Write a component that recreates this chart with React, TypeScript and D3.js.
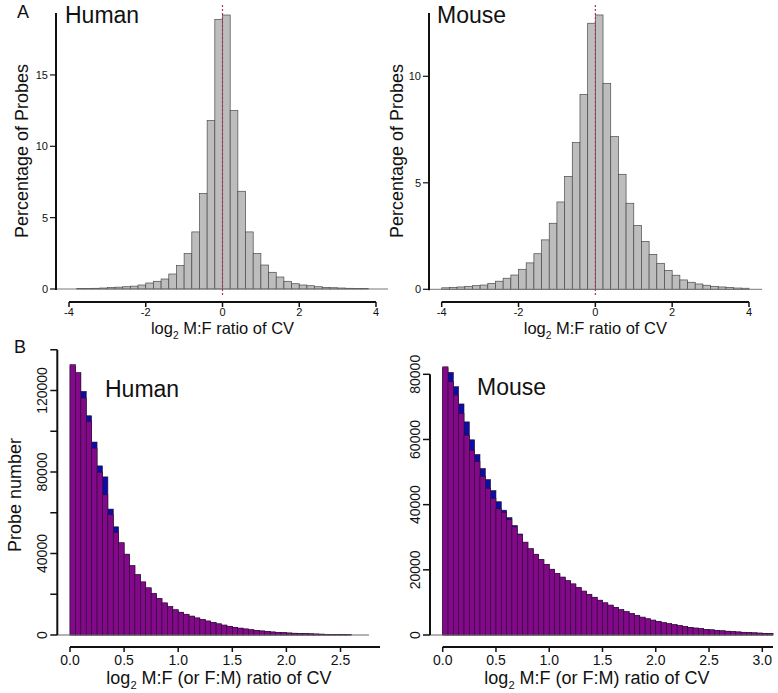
import React from "react";
import * as d3 from "d3";

// ---------- DATA ----------
// Panel A: percentage of probes, bins of width 0.2 (lower edges start)
const humanPctStart = -3.8;
const humanPct = [0.03, 0.04, 0.05, 0.07, 0.10, 0.13, 0.16, 0.20, 0.28, 0.42, 0.54, 0.70, 1.05, 1.64, 2.48, 4.0, 6.7, 11.8, 18.9,
  19.2, 12.5, 6.85, 4.0, 2.48, 1.68, 1.17, 0.84, 0.54, 0.37, 0.28, 0.23, 0.16, 0.11, 0.09, 0.07, 0.05, 0.04, 0.03];
const mousePctStart = -4.0;
const mousePct = [0.07, 0.09, 0.11, 0.14, 0.17, 0.20, 0.28, 0.38, 0.52, 0.67, 0.94, 1.24, 1.67, 2.32, 3.1, 4.1, 5.3, 6.89, 9.15, 12.49,
  12.88, 9.67, 7.17, 5.4, 4.04, 3.0, 2.25, 1.64, 1.22, 0.89, 0.66, 0.44, 0.33, 0.25, 0.19, 0.14, 0.11, 0.09, 0.06, 0.05];
const pctBinWidth = 0.2;
const humanPctTicksY = [0, 5, 10, 15];
const mousePctTicksY = [0, 5, 10];
const pctTicksX = [-4, -2, 0, 2, 4];

// Panel B: probe number (thousands), bins of width 0.05 from 0
const humanNumPurple = [132.7, 128.9, 116.3, 104.8, 91.7, 79.9, 68.8, 59.0, 50.4, 45.4,
  39.7, 34.1, 29.7, 26.1, 23.2, 20.4, 18.0, 15.8, 14.0, 12.4,
  11.2, 10.2, 9.3, 8.4, 7.6, 6.9, 6.2, 5.5, 4.9, 4.3,
  3.8, 3.4, 3.0, 2.6, 2.3, 2.0, 1.75, 1.5, 1.3, 1.15,
  1.0, 0.88, 0.77, 0.67, 0.58, 0.5, 0.42, 0.35, 0.29, 0.23, 0.18, 0.14];
const humanNumBlue = [132.0, 128.3, 119.6, 107.6, 94.7, 83.0, 77.6, 61.8, 53.1, 45.0,
  39.5, 33.9, 29.5, 25.9, 23.0, 20.2, 17.8, 15.6, 13.8, 12.3,
  11.1, 10.1, 9.2, 8.3, 7.5, 6.8, 6.1, 5.4, 4.8, 4.2,
  3.7, 3.3, 2.9, 2.5, 2.2, 1.95, 1.7, 1.45, 1.25, 1.1,
  0.95, 0.85, 0.74, 0.64, 0.55, 0.47, 0.40, 0.33, 0.27, 0.22, 0.17, 0.13];
const mouseNumPurple = [82.3, 77.7, 73.6, 68.0, 61.3, 56.7, 53.2, 48.6, 45.0, 41.9,
  38.7, 37.6, 35.4, 33.2, 30.8, 28.5, 26.5, 24.8, 23.2, 21.7,
  20.2, 18.9, 17.8, 16.7, 15.7, 14.6, 13.5, 12.5, 11.6, 10.7,
  9.9, 9.2, 8.5, 7.8, 7.2, 6.6, 6.0, 5.5, 5.0, 4.6,
  4.2, 3.8, 3.5, 3.2, 2.9, 2.6, 2.35, 2.15, 1.95, 1.75,
  1.6, 1.45, 1.3, 1.18, 1.05, 0.95, 0.85, 0.75, 0.67, 0.6, 0.53, 0.46];
const mouseNumBlue = [82.0, 80.6, 76.2, 70.9, 65.4, 59.9, 55.4, 51.1, 47.7, 44.3,
  40.9, 38.3, 36.0, 33.6, 31.0, 28.4, 26.4, 24.7, 23.1, 21.6,
  20.1, 18.8, 17.7, 16.6, 15.6, 14.5, 13.4, 12.4, 11.5, 10.6,
  9.8, 9.1, 8.4, 7.7, 7.1, 6.5, 5.9, 5.4, 4.9, 4.5,
  4.1, 3.7, 3.4, 3.1, 2.8, 2.55, 2.3, 2.1, 1.9, 1.7,
  1.55, 1.4, 1.25, 1.14, 1.0, 0.92, 0.82, 0.72, 0.64, 0.57, 0.5, 0.44];
const numBinWidth = 0.05;
const humanNumTicksY = [0, 20000, 40000, 60000, 80000, 100000, 120000, 140000];
const humanNumLabelsY = [0, 40000, 80000, 120000];
const mouseNumTicksY = [0, 20000, 40000, 60000, 80000];
const humanNumTicksX = [0, 0.5, 1.0, 1.5, 2.0, 2.5];
const mouseNumTicksX = [0, 0.5, 1.0, 1.5, 2.0, 2.5, 3.0];

// ---------- STYLE ----------
const FONT = "'Liberation Sans', Arial, Helvetica, sans-serif";
const GRAY = "#bdbdbd";
const PURPLE = "#84098a";
const BLUE = "#0c0ca6";

function Log2Label({ x, y, size, rest }) {
  return (
    <text x={x} y={y} fontSize={size} textAnchor="middle" fontFamily={FONT} fill="#111">
      log<tspan fontSize={size * 0.62} dy={size * 0.28}>2</tspan>
      <tspan dy={-size * 0.28}>{" " + rest}</tspan>
    </text>
  );
}

function PanelA({ values, start, xRange, y0, yUnit, axisX, baselineEnd, yTicks, title, titleX, ylabX }) {
  const x = d3.scaleLinear().domain([-4, 4]).range(xRange);
  const y = d3.scaleLinear().domain([0, 1]).range([y0, y0 - yUnit]);
  const edges = values.map((_, i) => start + i * pctBinWidth);
  const yTop = 13;
  return (
    <g>
      {values.map((v, i) => (
        <rect key={i} x={x(edges[i])} y={y(v)} width={x(edges[i] + pctBinWidth) - x(edges[i])}
          height={y0 - y(v)} fill={GRAY} stroke="#4a4a4a" strokeWidth={0.7} />
      ))}
      <line x1={axisX} x2={baselineEnd} y1={y0} y2={y0} stroke="#777" strokeWidth={1} />
      <line x1={x(0)} x2={x(0)} y1={5} y2={297} stroke="#b3305c" strokeWidth={1.2} strokeDasharray="2 2" />
      {/* y axis */}
      <line x1={axisX} x2={axisX} y1={y0 + 1} y2={yTop} stroke="#111" strokeWidth={2} />
      {yTicks.map((t) => (
        <g key={t}>
          <line x1={axisX - 6} x2={axisX} y1={y(t)} y2={y(t)} stroke="#111" strokeWidth={1.2} />
          <text x={axisX - 8} y={y(t) + 4} fontSize={11} textAnchor="end" fontFamily={FONT} fill="#111">{t}</text>
        </g>
      ))}
      {/* x axis */}
      <line x1={x(-4)} x2={x(4)} y1={302} y2={302} stroke="#111" strokeWidth={2} />
      {pctTicksX.map((t) => (
        <g key={t}>
          <line x1={x(t)} x2={x(t)} y1={302} y2={307} stroke="#111" strokeWidth={1.5} />
          <text x={x(t)} y={316} fontSize={11} textAnchor="middle" fontFamily={FONT} fill="#111">{t}</text>
        </g>
      ))}
      <Log2Label x={(x(-4) + x(4)) / 2} y={334} size={16.5} rest="M:F ratio of CV" />
      <text transform={`translate(${ylabX},151) rotate(-90)`} fontSize={18} textAnchor="middle" fontFamily={FONT} fill="#111">Percentage of Probes</text>
      <text x={titleX} y={23} fontSize={23} fontFamily={FONT} fill="#111">{title}</text>
    </g>
  );
}

function PanelB({ purple, blue, xDomain, xRange, yDomain, yRange, axisX, axisEndX, baselineEnd, yTicks, yLabels, xTicks, title, titleX, titleY, labelX }) {
  const x = d3.scaleLinear().domain(xDomain).range(xRange);
  const y = d3.scaleLinear().domain(yDomain).range(yRange);
  const y0 = y(0);
  const bars = (vals, fill) =>
    vals.map((v, i) => {
      const x0 = x(i * numBinWidth);
      const x1 = x((i + 1) * numBinWidth);
      return (
        <rect key={fill + i} x={x0} y={y(v * 1000)} width={x1 - x0} height={y0 - y(v * 1000)}
          fill={fill} stroke="#2a1030" strokeWidth={0.6} />
      );
    });
  const topTick = yTicks[yTicks.length - 1];
  return (
    <g>
      {bars(blue, BLUE)}
      {bars(purple, PURPLE)}
      <line x1={axisX} x2={baselineEnd} y1={y0} y2={y0} stroke="#666" strokeWidth={1} />
      <line x1={axisX} x2={axisX} y1={y0} y2={y(topTick)} stroke="#111" strokeWidth={2} />
      {yTicks.map((t) => (
        <line key={t} x1={axisX - 7} x2={axisX} y1={y(t)} y2={y(t)} stroke="#111" strokeWidth={1.5} />
      ))}
      {yLabels.map((t) => (
        <text key={"l" + t} transform={`translate(${axisX - 10},${y(t)}) rotate(-90)`} fontSize={14}
          textAnchor="middle" fontFamily={FONT} fill="#111">{t}</text>
      ))}
      <line x1={x(0)} x2={axisEndX} y1={647} y2={647} stroke="#111" strokeWidth={2} />
      {xTicks.map((t) => (
        <g key={t}>
          <line x1={x(t)} x2={x(t)} y1={647} y2={652} stroke="#111" strokeWidth={1.5} />
          <text x={x(t)} y={665} fontSize={14} textAnchor="middle" fontFamily={FONT} fill="#111">{t.toFixed(1)}</text>
        </g>
      ))}
      <Log2Label x={labelX} y={684} size={18} rest="M:F (or F:M) ratio of CV" />
      <text x={titleX} y={titleY} fontSize={23} fontFamily={FONT} fill="#111">{title}</text>
    </g>
  );
}

export default function App() {
  return (
    <svg width={778} height={693} viewBox="0 0 778 693"
      style={{ position: "absolute", left: 0, top: 0, background: "#fff", display: "block" }}>
      <rect width={778} height={693} fill="#fff" />
      <text x={17} y={18} fontSize={18} fontFamily={FONT} fill="#111">A</text>
      <text x={14} y={353} fontSize={18} fontFamily={FONT} fill="#111">B</text>

      <PanelA values={humanPct} start={humanPctStart} xRange={[69, 376]} y0={289} yUnit={14.27}
        axisX={56} baselineEnd={388} yTicks={humanPctTicksY} title="Human" titleX={65} ylabX={28} />
      <PanelA values={mousePct} start={mousePctStart} xRange={[441.7, 749]} y0={289.3} yUnit={21.3}
        axisX={429} baselineEnd={762} yTicks={mousePctTicksY} title="Mouse" titleX={437} ylabX={403} />

      <PanelB purple={humanNumPurple} blue={humanNumBlue} xDomain={[0, 2.5]} xRange={[70, 340.5]}
        yDomain={[0, 120000]} yRange={[635, 390.5]} axisX={57.3} axisEndX={380} baselineEnd={369}
        yTicks={humanNumTicksY} yLabels={humanNumLabelsY} xTicks={humanNumTicksX}
        title="Human" titleX={105} titleY={397} labelX={219} />
      <PanelB purple={mouseNumPurple} blue={mouseNumBlue} xDomain={[0, 3]} xRange={[442.7, 762.3]}
        yDomain={[0, 80000]} yRange={[635, 374.3]} axisX={430} axisEndX={773} baselineEnd={773}
        yTicks={mouseNumTicksY} yLabels={mouseNumTicksY} xTicks={mouseNumTicksX}
        title="Mouse" titleX={477} titleY={395} labelX={597} />

      <text transform="translate(21,495) rotate(-90)" fontSize={18} textAnchor="middle" fontFamily={FONT} fill="#111">Probe number</text>
    </svg>
  );
}
